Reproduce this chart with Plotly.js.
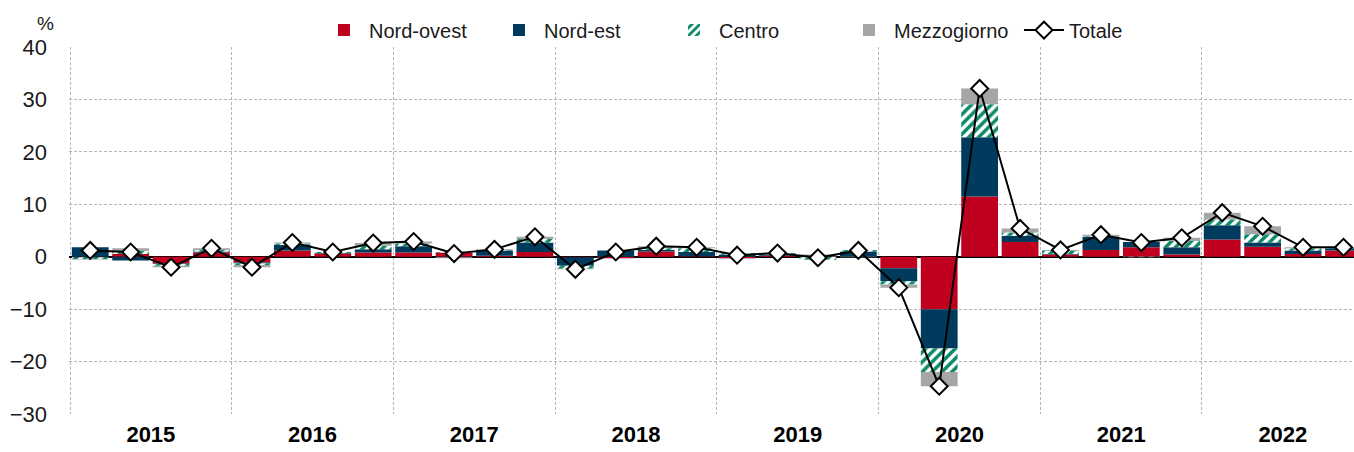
<!DOCTYPE html>
<html>
<head>
<meta charset="utf-8">
<script src="https://cdn.plot.ly/plotly-3.0.1.min.js"></script>
<style>
html,body{margin:0;padding:0;background:#fff;overflow:hidden;}
#chart{width:1354px;height:452px;}
</style>
</head>
<body>
<div id="chart"></div>
<script>
// Quarters 2015 Q1 .. 2022 Q4
const quarters = [
  '2015 T1','2015 T2','2015 T3','2015 T4',
  '2016 T1','2016 T2','2016 T3','2016 T4',
  '2017 T1','2017 T2','2017 T3','2017 T4',
  '2018 T1','2018 T2','2018 T3','2018 T4',
  '2019 T1','2019 T2','2019 T3','2019 T4',
  '2020 T1','2020 T2','2020 T3','2020 T4',
  '2021 T1','2021 T2','2021 T3','2021 T4',
  '2022 T1','2022 T2','2022 T3','2022 T4'
];
const years = ['2015','2016','2017','2018','2019','2020','2021','2022'];

const nordOvest   = [-0.1, 0.5,-1.3, 0.8,  -1.1, 1.2, 0.6, 0.8,   0.8, 0.8, 0.2, 0.9,  -0.1,-0.3, 1.0, 0.1,  -0.3, 0.2, 0.1, 0.0,  -2.2,-10.0,11.5, 2.8,   0.4, 1.3, 1.8, 0.4,   3.3, 1.9, 0.5, 1.2];
const nordEst     = [ 1.8,-0.7,-0.1, 0.2,  -0.2, 1.1, 0.1, 0.6,   1.2,-0.1, 1.0, 1.8,  -1.6, 1.2, 0.3, 0.8,   0.4, 0.2, 0.2, 1.0,  -2.5, -7.5,11.3, 1.2,   0.1, 2.5, 1.0, 1.4,   2.7, 0.8, 0.7, 0.4];
const centro      = [-0.4, 0.6,-0.3, 0.3,  -0.3, 0.2, 0.2, 0.7,   0.5, 0.1, 0.1, 0.7,  -0.6, 0.0, 0.3, 0.7,   0.3, 0.3,-0.6, 0.3,  -0.6, -4.5, 6.3, 0.6,   0.6, 0.1,-0.1, 1.2,   1.1, 1.6, 0.4, 0.1];
const mezzogiorno = [-0.1, 0.5,-0.3, 0.3,  -0.4, 0.2, 0.0, 0.5,   0.4,-0.2, 0.1, 0.4,  -0.1, 0.0, 0.4, 0.2,  -0.1, 0.0, 0.1,-0.1,  -0.6, -2.7, 3.0, 0.8,   0.2, 0.3, 0.0, 0.6,   1.3, 1.5, 0.2, 0.1];
const totale      = [ 1.2, 0.9,-2.0, 1.6,  -2.0, 2.7, 0.9, 2.6,   2.9, 0.6, 1.4, 3.8,  -2.4, 0.9, 2.0, 1.8,   0.3, 0.7,-0.2, 1.2,  -5.9,-24.7,32.1, 5.4,   1.3, 4.2, 2.7, 3.6,   8.4, 5.8, 1.8, 1.8];

const yTicks = [-30,-20,-10,0,10,20,30,40];

const xPos = quarters.map((q, i) => i);
const yearPos = years.map((y, i) => i * 4 + 1.5);
const yearBounds = years.map((y, i) => i * 4 - 0.5);

const FONT = "'Liberation Sans Narrow', 'Arial Narrow', 'Liberation Sans', Arial, sans-serif";

const C_RED = '#C0001F';
const C_NAVY = '#003A5C';
const C_GREEN = '#0A8A68';
const C_GRAY = '#A6A6A6';
const C_GRID = '#b5b5b5';

const traces = [
  {type:'bar', name:'Nord-ovest', x:xPos, y:nordOvest, marker:{color:C_RED, line:{width:0}}},
  {type:'bar', name:'Nord-est', x:xPos, y:nordEst, marker:{color:C_NAVY, line:{width:0}}},
  {type:'bar', name:'Centro', x:xPos, y:centro,
    marker:{color:'#ffffff', line:{width:0},
      pattern:{shape:'/', fgcolor:C_GREEN, fgopacity:1, bgcolor:'#ffffff', size:7, solidity:0.5, fillmode:'replace'}}},
  {type:'bar', name:'Mezzogiorno', x:xPos, y:mezzogiorno, marker:{color:C_GRAY, line:{width:0}}},
  {type:'scatter', mode:'lines+markers', name:'Totale', x:xPos, y:totale,
    line:{color:'#000000', width:2},
    marker:{symbol:'diamond', size:13, color:'#ffffff', line:{color:'#000000', width:2}}}
];

const layout = {
  width:1354, height:452,
  margin:{l:69, r:0, t:47, b:38, pad:0},
  paper_bgcolor:'#ffffff', plot_bgcolor:'#ffffff',
  font:{family:FONT, color:'#1a1a1a', size:20},
  barmode:'relative',
  bargap:0.09,
  showlegend:true,
  legend:{orientation:'h', x:0.535, xanchor:'center', y:1.046, yanchor:'middle',
    font:{family:FONT, size:20, color:'#1a1a1a'}, itemwidth:40, traceorder:'normal',
    entrywidth:120, entrywidthmode:'pixels',
    bgcolor:'rgba(0,0,0,0)'},
  xaxis:{
    range:[-0.525, 31.26],
    tickmode:'array', tickvals:yearPos,
    ticktext:years.map(y => '<b>' + y + '</b>'),
    tickfont:{family:FONT, size:22, color:'#000000'},
    ticks:'', showgrid:false, zeroline:false, showline:false,
    ticklabelstandoff:5,
    minor:{tickmode:'array', tickvals:yearBounds, showgrid:true, gridcolor:C_GRID, gridwidth:1, griddash:'3px,2px', ticks:''},
    fixedrange:true
  },
  yaxis:{
    range:[-30, 40], tickmode:'array', tickvals:yTicks,
    tickfont:{family:FONT, size:22, color:'#1a1a1a'},
    showgrid:true, gridcolor:C_GRID, gridwidth:1, griddash:'3px,2px',
    zeroline:true, zerolinecolor:'#000000', zerolinewidth:2,
    showline:false, ticks:'', ticklabelstandoff:21,
    fixedrange:true
  },
  annotations:[
    {text:'%', xref:'paper', yref:'paper', x:-0.018, y:1.065, xanchor:'center', yanchor:'middle',
     showarrow:false, font:{family:FONT, size:19, color:'#1a1a1a'}}
  ]
};

Plotly.newPlot('chart', traces, layout, {displayModeBar:false, staticPlot:true});
</script>
</body>
</html>
